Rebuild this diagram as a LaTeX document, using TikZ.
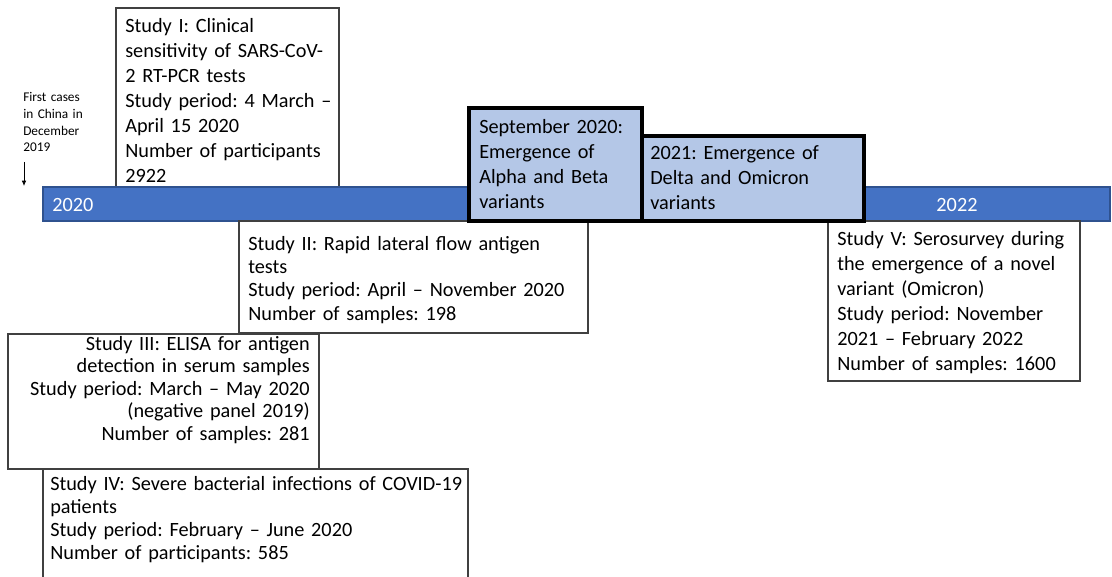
\documentclass[tikz,border=0pt]{standalone}
\usepackage{fontspec}
\setmainfont{Carlito}
\frenchspacing
\usetikzlibrary{fit,arrows.meta}
\definecolor{barblue}{HTML}{4472C4}
\definecolor{barborder}{HTML}{2F528F}
\definecolor{varfill}{HTML}{B4C7E7}
\definecolor{boxline}{HTML}{404040}
\begin{document}
\begin{tikzpicture}[x=0.75pt,y=-0.75pt,
  studybox/.style={draw=boxline, line width=0.8pt, fill=white, inner sep=0pt, rectangle},
  varbox/.style={draw=black, line width=3pt, fill=varfill, inner sep=0pt, rectangle},
  txtA/.style={inner sep=0pt, anchor=base west, align=left, text width=330pt,
    font=\fontsize{15.2}{18.75}\selectfont},
  txtB/.style={inner sep=0pt, anchor=base west, align=left, text width=330pt,
    font=\fontsize{15.2}{17.5}\selectfont},
  txtR/.style={inner sep=0pt, anchor=base east, align=right, text width=300pt,
    font=\fontsize{15.2}{16.9}\selectfont},
  small/.style={inner sep=0pt, anchor=base west, align=left, text width=60pt,
    font=\fontsize{10}{12.5}\selectfont},
  yearlabel/.style={inner sep=0pt, text=white, font=\fontsize{15.2}{18}\selectfont}
]
\useasboundingbox (0,0) rectangle (1112,577);
\clip (0,0) rectangle (1112,577);

% first cases note
\node[small] (first) at (23,102) {First cases\\in China in\\December\\2019};
\coordinate (atop) at (24,162);
\coordinate (abot) at (24,186);
\draw[line width=0.6pt, -{Latex[length=4pt,width=3.5pt]}] (atop) -- (abot);

% Study I (behind the bar)
\node[studybox, fit={(116,8) (339,221)}] (s1) {};
\node[txtA] (t1) at (125,33) {Study I: Clinical\\sensitivity of SARS-CoV-\\2 RT-PCR tests\\Study period: 4 March –\\April 15 2020\\Number of participants\\2922};

% timeline bar
\node[fit={(43,187) (1110,221)}, fill=barblue, draw=barborder, line width=0.8pt, inner sep=0pt] (bar) {};
\node[yearlabel, anchor=base west] (y2020) at (52,211) {2020};
\node[yearlabel, anchor=base] (y2022) at (957,211) {2022};

% Study II
\node[studybox, fit={(239,221) (588,333)}] (s2) {};
\node[txtB] (t2) at (248,250) {Study II: Rapid lateral flow antigen\\tests\\Study period: April – November 2020\\Number of samples: 198};

% Study III
\node[studybox, fit={(8,334) (319,469)}] (s3) {};
\node[txtR] (t3) at (310,350) {Study III: ELISA for antigen\\detection in serum samples\\Study period: March – May 2020\\(negative panel 2019)\\Number of samples: 281};

% Study IV
\node[studybox, fit={(43,469) (468,590)}] (s4) {};
\node[txtB, font=\fontsize{15.2}{17.25}\selectfont] (t4) at (50,490) {Study IV: Severe bacterial infections of COVID-19\\patients\\Study period: February – June 2020\\Number of participants: 585};

% Study V
\node[studybox, fit={(828,221) (1080,381)}] (s5) {};
\node[txtA] (t5) at (837,245) {Study V: Serosurvey during\\the emergence of a novel\\variant (Omicron)\\Study period: November\\2021 – February 2022\\Number of samples: 1600};

% variant boxes
\node[varbox, fit={(469,108) (642,221)}] (v1) {};
\node[txtA] (tv1) at (479,134) {September 2020:\\Emergence of\\Alpha and Beta\\variants};
\node[varbox, fit={(642,136) (864,221)}] (v2) {};
\node[txtA] (tv2) at (650,160) {2021: Emergence of\\Delta and Omicron\\variants};
\end{tikzpicture}
\end{document}
